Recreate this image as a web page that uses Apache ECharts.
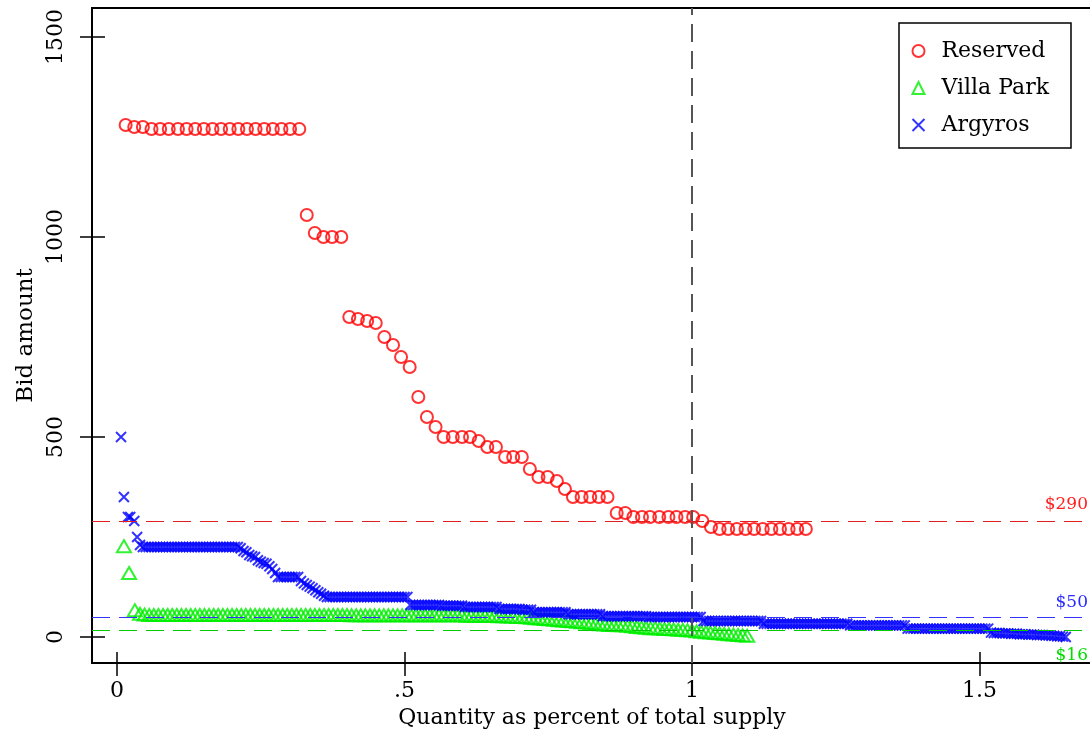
<!DOCTYPE html>
<html>
<head>
<meta charset="utf-8">
<script src="https://cdn.jsdelivr.net/npm/echarts@6/dist/echarts.min.js"></script>
<style>
html, body { margin: 0; padding: 0; background: #fff; }
#chart { width: 1090px; height: 737px; }
</style>
</head>
<body>
<div id="chart"></div>
<script>
// Reserved bids: quantity (share of total supply) and bid amount
const reservedQty = [0.015,0.030,0.045,0.060,0.075,0.090,0.106,0.121,0.136,0.151,0.166,0.181,0.196,0.211,0.226,0.241,0.256,0.271,0.286,0.301,0.317,
    0.330,0.344,0.359,0.374,0.390,0.404,0.419,0.435,0.450,0.465,0.480,0.494,0.509,0.524,0.539,0.554,0.568,0.584,0.600,0.614,0.629,0.644,0.659,
    0.675,0.689,0.704,0.718,0.733,0.749,0.765,0.779,0.793,0.808,0.823,0.838,0.853,0.869,0.884,0.898,0.913,0.927,0.943,0.959,0.973,0.988,1.002,
    1.018,1.033,1.048,1.063,1.078,1.093,1.108,1.123,1.138,1.153,1.168,1.183,1.198];
const reservedBid = [1280,1275,1275,1270,1270,1270,1270,1270,1270,1270,1270,1270,1270,1270,1270,1270,1270,1270,1270,1270,1270,
    1055,1010,1000,1000,1000,800,795,790,785,750,730,700,675,600,550,525,500,500,500,500,490,475,475,
    450,450,450,420,400,400,390,370,350,350,350,350,350,310,310,300,300,300,300,300,300,300,300,
    290,275,270,270,270,270,270,270,270,270,270,270,270];

// Villa Park bids
const villaQty = [0.012,0.021,0.031,
    0.040,0.048,0.056,0.064,0.072,0.080,0.088,0.096,0.104,0.112,
    0.120,0.128,0.136,0.144,0.152,0.160,0.168,0.176,0.184,0.192,
    0.200,0.208,0.216,0.224,0.232,0.240,0.248,0.256,0.264,0.272,
    0.280,0.288,0.296,0.304,0.312,0.320,0.328,0.336,0.344,0.352,
    0.360,0.368,0.376,0.384,0.392,0.400,0.408,0.416,0.424,0.432,
    0.440,0.448,0.456,0.464,0.472,0.480,0.488,0.496,0.504,0.512,
    0.520,0.528,0.536,0.544,0.552,0.560,0.568,0.576,0.584,0.592,
    0.600,0.608,0.616,0.624,0.632,0.640,0.648,0.656,0.664,0.672,
    0.680,0.688,0.696,0.704,0.712,0.720,0.728,0.736,0.744,0.752,
    0.760,0.768,0.776,0.784,0.792,0.800,0.808,0.816,0.824,0.832,
    0.840,0.848,0.856,0.864,0.872,0.880,0.888,0.896,0.904,0.912,
    0.920,0.928,0.936,0.944,0.952,0.960,0.968,0.976,0.984,0.992,
    1.000,1.008,1.016,1.024,1.032,1.040,1.048,1.056,1.064,1.072,
    1.080,1.088,1.096];
const villaBid = [227,160,67,
    58,56,55,55,55,55,55,55,55,55,
    55,55,55,55,55,55,55,55,55,55,
    55,55,55,55,55,55,55,55,55,55,
    55,55,55,55,55,55,55,55,55,55,
    55,55,55,55,55,55,54,54,54,54,
    54,54,54,54,54,54,54,54,54,54,
    54,54,54,54,54,54,54,54,54,54,
    54,53,53,53,53,53,53,53,52,52,
    51,51,50,50,49,48,47,46,45,44,
    43,42,41,40,39,38,37,36,35,33,
    32,31,30,30,29,29,28,27,25,24,
    23,22,22,21,20,20,19,18,18,17,
    16,14,13,12,11,10,9,8,7,6,
    5,4,3];

// Argyros bids
const argyrosQty = [0.007,0.012,0.019,0.023,0.030,0.035,
    0.040,0.045,0.050,0.055,0.060,0.065,0.070,0.075,0.080,0.085,0.090,0.095,0.100,0.105,0.110,0.115,0.120,0.125,0.130,0.135,
    0.140,0.145,0.150,0.155,0.160,0.165,0.170,0.175,0.180,0.185,0.190,0.195,0.200,0.205,0.210,0.215,0.220,0.225,0.230,0.235,
    0.240,0.245,0.250,0.255,0.260,0.265,0.270,0.275,0.280,0.285,0.290,0.295,0.300,0.305,0.310,0.315,0.320,0.325,0.330,0.335,
    0.340,0.345,0.350,0.355,0.360,0.365,0.370,0.375,0.380,0.385,0.390,0.395,0.400,0.405,0.410,0.415,0.420,0.425,0.430,0.435,
    0.440,0.445,0.450,0.455,0.460,0.465,0.470,0.475,0.480,0.485,0.490,0.495,0.500,0.505,0.510,0.515,0.520,0.525,0.530,0.535,
    0.540,0.545,0.550,0.555,0.560,0.565,0.570,0.575,0.580,0.585,0.590,0.595,0.600,0.605,0.610,0.615,0.620,0.625,0.630,0.635,
    0.640,0.645,0.650,0.655,0.660,0.665,0.670,0.675,0.680,0.685,0.690,0.695,0.700,0.705,0.710,0.715,0.720,0.725,0.730,0.735,
    0.740,0.745,0.750,0.755,0.760,0.765,0.770,0.775,0.780,0.785,0.790,0.795,0.800,0.805,0.810,0.815,0.820,0.825,0.830,0.835,
    0.840,0.845,0.850,0.855,0.860,0.865,0.870,0.875,0.880,0.885,0.890,0.895,0.900,0.905,0.910,0.915,0.920,0.925,0.930,0.935,
    0.940,0.945,0.950,0.955,0.960,0.965,0.970,0.975,0.980,0.985,0.990,0.995,1.000,1.005,1.010,1.015,1.020,1.025,1.030,1.035,
    1.040,1.045,1.050,1.055,1.060,1.065,1.070,1.075,1.080,1.085,1.090,1.095,1.100,1.105,1.110,1.115,1.120,1.125,1.130,1.135,
    1.140,1.145,1.150,1.155,1.160,1.165,1.170,1.175,1.180,1.185,1.190,1.195,1.200,1.205,1.210,1.215,1.220,1.225,1.230,1.235,
    1.240,1.245,1.250,1.255,1.260,1.265,1.270,1.275,1.280,1.285,1.290,1.295,1.300,1.305,1.310,1.315,1.320,1.325,1.330,1.335,
    1.340,1.345,1.350,1.355,1.360,1.365,1.370,1.375,1.380,1.385,1.390,1.395,1.400,1.405,1.410,1.415,1.420,1.425,1.430,1.435,
    1.440,1.445,1.450,1.455,1.460,1.465,1.470,1.475,1.480,1.485,1.490,1.495,1.500,1.505,1.510,1.515,1.520,1.525,1.530,1.535,
    1.540,1.545,1.550,1.555,1.560,1.565,1.570,1.575,1.580,1.585,1.590,1.595,1.600,1.605,1.610,1.615,1.620,1.625,1.630,1.635,
    1.640,1.645,1.650];
const argyrosBid = [500,350,300,300,290,250,
    230,225,225,225,225,225,225,225,225,225,225,225,225,225,225,225,225,225,225,225,
    225,225,225,225,225,225,225,225,225,225,225,225,225,225,225,222,215,212,205,202,
    200,192,188,185,183,177,170,160,150,150,150,150,150,150,150,150,140,134,130,126,
    122,117,112,108,103,100,100,100,100,100,100,100,100,100,100,100,100,100,100,100,
    100,100,100,100,100,100,100,100,100,100,100,100,100,100,80,80,80,80,80,80,
    80,80,80,80,80,78,78,78,78,78,78,78,78,75,75,75,75,75,75,75,
    75,75,75,75,75,70,70,70,70,70,70,70,70,68,68,68,68,62,62,62,
    62,62,62,62,62,62,62,62,62,57,57,57,57,57,57,57,57,57,57,57,
    57,52,52,52,52,52,52,52,52,52,52,52,52,52,52,52,52,50,50,50,
    50,50,50,50,50,50,50,50,50,50,50,50,50,50,50,50,40,40,40,40,
    40,40,40,40,40,40,40,40,40,40,40,40,40,40,40,40,40,33,33,33,
    33,33,33,33,33,33,33,33,33,33,33,33,33,33,33,33,33,33,33,33,
    33,33,33,33,33,33,33,29,29,29,29,29,29,29,29,29,29,29,29,29,
    29,29,29,29,29,29,29,21,21,21,21,21,21,21,21,21,21,21,21,21,
    21,21,21,21,21,21,21,21,21,21,21,21,21,21,21,21,11,10,10,10,
    9,9,9,8,8,8,7,7,7,6,6,6,5,5,5,4,4,3,3,2,
    2,1,0];

// axes and reference prices
const xTicks = [0, 0.5, 1, 1.5];
const xTickLabels = ['0', '.5', '1', '1.5'];
const yTicks = [0, 500, 1000, 1500];
const supplyLine = 1;
const clearingPrices = [290, 50, 16];
const priceLabels = ['$290', '$50', '$16'];

const FONT = 'DejaVu Serif';
const X_RANGE = [-0.0435, 1.7652];
const Y_RANGE = [-65, 1572.5];
const pairs = (q, b) => q.map((v, i) => [v, b[i]]);

let chart = echarts.init(document.getElementById('chart'), null, {renderer: 'canvas'});

const dash = [18, 9];
const tickLine = {color: '#000', width: 1.5};
const noLine = {show: false, onZero: false};

// second copy of each axis only draws the inner half of the tick marks
let option = {
    animation: false,
    backgroundColor: '#fff',
    grid: {
        left: 92, top: 8, width: 1040, height: 655,
        show: true, borderColor: '#000', borderWidth: 2,
        containLabel: false, outerBoundsMode: 'none'
    },
    legend: {
        orient: 'vertical',
        left: 899, top: 23,
        padding: [17, 22, 12, 11],
        itemGap: 15,
        itemWidth: 12, itemHeight: 12,
        borderColor: '#000', borderWidth: 1.5,
        textStyle: {fontFamily: FONT, fontSize: 22, color: '#000', padding: [0, 0, 0, 12]},
        data: ['Reserved', 'Villa Park', 'Argyros']
    },
    xAxis: [{
        type: 'value',
        min: X_RANGE[0], max: X_RANGE[1],
        axisLine: noLine,
        axisTick: {show: true, length: 13, lineStyle: tickLine, customValues: xTicks},
        axisLabel: {
            customValues: xTicks,
            margin: 17,
            fontFamily: FONT, fontSize: 22, color: '#000',
            formatter: v => xTickLabels[xTicks.indexOf(v)] ?? String(v)
        },
        splitLine: {show: false},
        name: 'Quantity as percent of total supply',
        nameLocation: 'middle',
        nameGap: 44,
        nameTextStyle: {fontFamily: FONT, fontSize: 22, color: '#000', padding: [0, 40, 0, 0]}
    }, {
        type: 'value',
        position: 'bottom',
        min: X_RANGE[0], max: X_RANGE[1],
        axisLine: noLine,
        axisTick: {show: true, inside: true, length: 11, lineStyle: tickLine, customValues: xTicks},
        axisLabel: {show: false},
        splitLine: {show: false}
    }],
    yAxis: [{
        type: 'value',
        min: Y_RANGE[0], max: Y_RANGE[1],
        axisLine: noLine,
        axisTick: {show: true, length: 12, lineStyle: tickLine, customValues: yTicks},
        axisLabel: {
            customValues: yTicks,
            rotate: 90,
            margin: 25,
            fontFamily: FONT, fontSize: 22, color: '#000',
            formatter: v => String(v)
        },
        splitLine: {show: false},
        name: 'Bid amount',
        nameLocation: 'middle',
        nameGap: 53,
        nameRotate: 90,
        nameTextStyle: {fontFamily: FONT, fontSize: 23, color: '#000'}
    }, {
        type: 'value',
        position: 'left',
        min: Y_RANGE[0], max: Y_RANGE[1],
        axisLine: noLine,
        axisTick: {show: true, inside: true, length: 13, lineStyle: tickLine, customValues: yTicks},
        axisLabel: {show: false},
        splitLine: {show: false}
    }],
    series: [
        {
            name: 'Reserved',
            type: 'scatter',
            symbol: 'circle',
            symbolSize: 12,
            itemStyle: {color: 'none', borderColor: '#ff0000', borderWidth: 2},
            data: pairs(reservedQty, reservedBid),
            markLine: {
                silent: true, symbol: 'none', label: {show: false},
                data: [
                    {xAxis: supplyLine, lineStyle: {color: '#555', width: 2, type: dash}},
                    {yAxis: clearingPrices[0], lineStyle: {color: '#e02020', width: 1, type: dash}}
                ]
            }
        },
        {
            name: 'Villa Park',
            type: 'scatter',
            symbol: 'triangle',
            symbolSize: [14, 12],
            itemStyle: {color: 'none', borderColor: '#00ee00', borderWidth: 2},
            data: pairs(villaQty, villaBid),
            markLine: {
                silent: true, symbol: 'none', label: {show: false},
                data: [{yAxis: clearingPrices[2], lineStyle: {color: '#00cc00', width: 1, type: dash}}]
            }
        },
        {
            name: 'Argyros',
            type: 'scatter',
            symbol: 'path://M0,0L10,10M10,0L0,10',
            symbolSize: 10,
            itemStyle: {color: 'none', borderColor: '#0000ff', borderWidth: 2},
            data: pairs(argyrosQty, argyrosBid),
            markLine: {
                silent: true, symbol: 'none', label: {show: false},
                data: [{yAxis: clearingPrices[1], lineStyle: {color: '#3333ff', width: 1, type: dash}}]
            }
        }
    ]
};
chart.setOption(option);

// price labels at the right edge, placed from the y axis scale
const labelColors = ['#ff2020', '#2b2bff', '#00dd00'];
const labelShift = [-25, -23, 16];
chart.setOption({
    graphic: clearingPrices.map((p, i) => ({
        type: 'text',
        right: 2,
        top: chart.convertToPixel({yAxisIndex: 0}, p) + labelShift[i],
        style: {text: priceLabels[i], fill: labelColors[i], font: '17px "' + FONT + '"'}
    }))
});
</script>
</body>
</html>
